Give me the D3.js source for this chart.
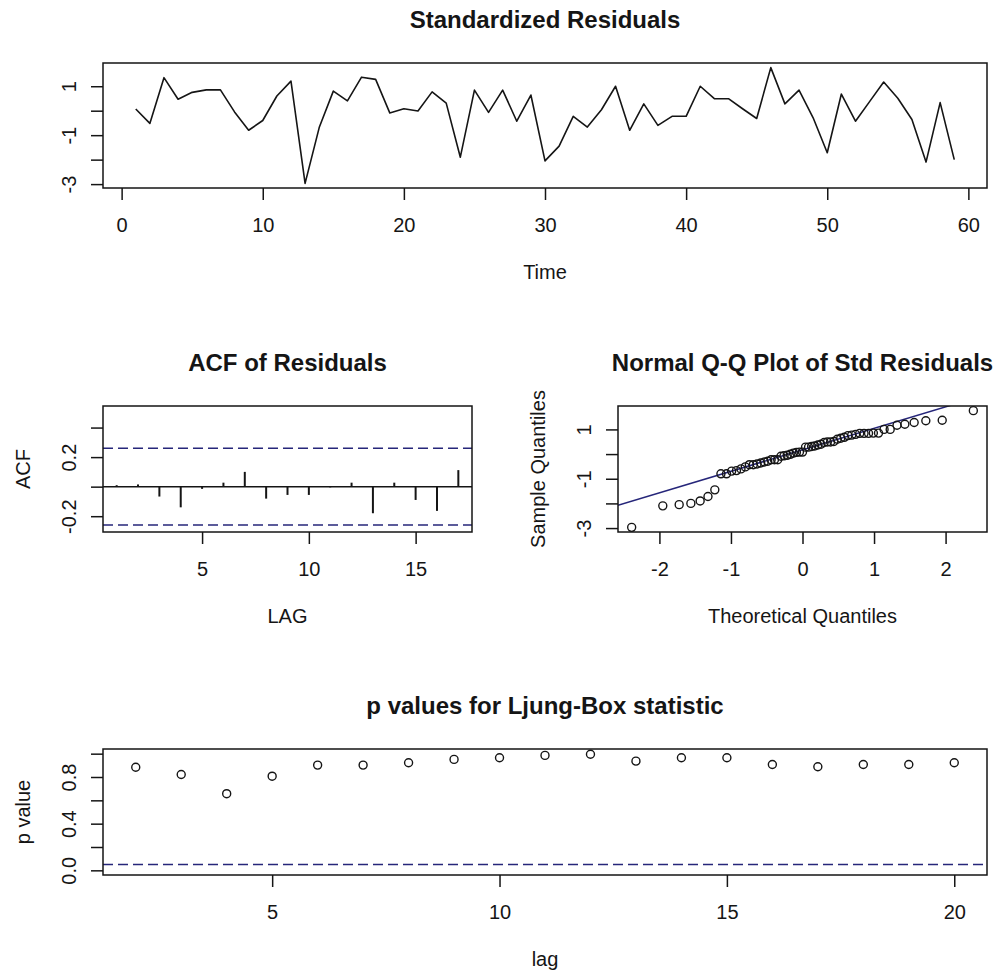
<!DOCTYPE html>
<html>
<head>
<meta charset="utf-8">
<script src="https://cdn.jsdelivr.net/npm/d3@7"></script>
<style>
	body { margin: 0; background: #fff; }
	svg { display: block; font-family: 'Liberation Sans', Arial, sans-serif; }
</style>
</head>
<body>
<script>
// standardized residuals, time 1..59
const stdResid = [
	0.07, -0.52, 1.35, 0.47, 0.75, 0.85, 0.85, -0.05, -0.8, -0.4,
	0.6, 1.21, -2.97, -0.69, 0.8, 0.4, 1.37, 1.28, -0.09, 0.08,
	-0.01, 0.77, 0.31, -1.9, 0.84, -0.07, 0.84, -0.43, 0.64, -2.05,
	-1.45, -0.23, -0.67, 0.04, 1.0, -0.8, 0.28, -0.6, -0.23, -0.23,
	1.0, 0.49, 0.49, 0.08, -0.32, 1.76, 0.28, 0.84, -0.29, -1.72,
	0.68, -0.43, 0.37, 1.17, 0.51, -0.36, -2.1, 0.33, -2.0
];
const timeTicks = [0, 10, 20, 30, 40, 50, 60];
const residTicks = [-3, -2, -1, 0, 1];
const residTickLabels = [-3, -1, 1];

const acfLags = [1, 2, 3, 4, 5, 6, 7, 8, 9, 10, 11, 12, 13, 14, 15, 16, 17];
const acfValues = [0.01, 0.015, -0.067, -0.14, -0.015, 0.027, 0.10, -0.081, -0.056, -0.056,
	-0.005, 0.027, -0.18, 0.027, -0.09, -0.164, 0.112];
const acfBound = 0.26;
const acfYLim = [-0.307, 0.546];
const acfXTicks = [5, 10, 15];
const acfYTicks = [-0.2, 0, 0.2, 0.4];
const acfYTickLabels = [-0.2, 0.2];

const qqXTicks = [-2, -1, 0, 1, 2];

const lbLags = [2, 3, 4, 5, 6, 7, 8, 9, 10, 11, 12, 13, 14, 15, 16, 17, 18, 19, 20];
const lbPValues = [0.884, 0.821, 0.657, 0.807, 0.902, 0.902, 0.922, 0.951, 0.965, 0.985,
	0.995, 0.936, 0.965, 0.965, 0.907, 0.888, 0.907, 0.907, 0.922];
const lbLevel = 0.05;
const lbXTicks = [5, 10, 15, 20];
const lbYTicks = [0, 0.2, 0.4, 0.6, 0.8, 1.0];
const lbYTickLabels = [0, 0.4, 0.8];

const ink = '#151515';
const blue = '#26267a';

// inverse normal cdf (Acklam)
function qnorm(p) {
	const a = [-39.69683028665376, 220.9460984245205, -275.9285104469687, 138.3577518672690, -30.66479806614716, 2.506628277459239];
	const b = [-54.47609879822406, 161.5858368580409, -155.6989798598866, 66.80131188771972, -13.28068155288572];
	const c = [-0.007784894002430293, -0.3223964580411365, -2.400758277161838, -2.549732539343734, 4.374664141464968, 2.938163982698783];
	const d = [0.007784695709041462, 0.3224671290700398, 2.445134137142996, 3.754408661907416];
	const pl = 0.02425;
	let q, r;
	if (p < pl) {
		q = Math.sqrt(-2 * Math.log(p));
		return (((((c[0]*q+c[1])*q+c[2])*q+c[3])*q+c[4])*q+c[5]) / ((((d[0]*q+d[1])*q+d[2])*q+d[3])*q+1);
	}
	if (p > 1 - pl) {
		q = Math.sqrt(-2 * Math.log(1 - p));
		return -(((((c[0]*q+c[1])*q+c[2])*q+c[3])*q+c[4])*q+c[5]) / ((((d[0]*q+d[1])*q+d[2])*q+d[3])*q+1);
	}
	q = p - 0.5;
	r = q * q;
	return (((((a[0]*r+a[1])*r+a[2])*r+a[3])*r+a[4])*r+a[5])*q / (((((b[0]*r+b[1])*r+b[2])*r+b[3])*r+b[4])*r+1);
}

function pad(ext) {
	let d = (ext[1] - ext[0]) * 0.04;
	return [ext[0] - d, ext[1] + d];
}

let svg = d3.select('body').append('svg')
	.attr('width', 1003)
	.attr('height', 970);

svg.append('rect').attr('width', 1003).attr('height', 970).attr('fill', '#fff');

function panel(box, xDomain, yDomain, opts) {
	let x = d3.scaleLinear().domain(xDomain).range([box.x0, box.x1]);
	let y = d3.scaleLinear().domain(yDomain).range([box.y1, box.y0]);
	let g = svg.append('g');

	let xAxis = g.append('g')
		.attr('transform', `translate(0,${box.y1})`)
		.call(d3.axisBottom(x).tickValues(opts.xTicks).tickSize(12).tickPadding(18).tickSizeOuter(0)
			.tickFormat(d => String(d)));
	let yAxis = g.append('g')
		.attr('transform', `translate(${box.x0},0)`)
		.call(d3.axisLeft(y).tickValues(opts.yTicks).tickSize(12).tickSizeOuter(0)
			.tickFormat(d => opts.yLabels.includes(d) ? opts.yFormat(d) : ''));

	[xAxis, yAxis].forEach(a => {
		a.attr('font-size', null).attr('font-family', null);
		a.select('.domain').remove();
		a.selectAll('line').attr('stroke', ink).attr('stroke-width', 1.5);
		a.selectAll('text').attr('fill', ink).style('font-size', '20px');
	});
	yAxis.selectAll('text')
		.attr('x', null)
		.attr('dy', null)
		.attr('text-anchor', 'middle')
		.attr('transform', 'translate(-27,0) rotate(-90)');

	g.append('text')
		.attr('x', (box.x0 + box.x1) / 2)
		.attr('y', box.y0 - 35)
		.attr('text-anchor', 'middle')
		.attr('fill', ink)
		.style('font-size', '24px')
		.style('font-weight', 'bold')
		.text(opts.title);

	g.append('text')
		.attr('x', (box.x0 + box.x1) / 2)
		.attr('y', box.y1 + 91)
		.attr('text-anchor', 'middle')
		.attr('fill', ink)
		.style('font-size', '20px')
		.text(opts.xLabel);

	if (opts.yLabel) {
		let cy = (box.y0 + box.y1) / 2;
		g.append('text')
			.attr('transform', `translate(${box.x0 - 73},${cy}) rotate(-90)`)
			.attr('text-anchor', 'middle')
			.attr('fill', ink)
			.style('font-size', '20px')
			.text(opts.yLabel);
	}

	let plot = g.append('g');
	g.append('rect')
		.attr('x', box.x0).attr('y', box.y0)
		.attr('width', box.x1 - box.x0).attr('height', box.y1 - box.y0)
		.attr('fill', 'none').attr('stroke', ink).attr('stroke-width', 1.5);

	return {x, y, plot};
}

// Standardized residuals
{
	let times = stdResid.map((v, i) => i + 1);
	let p = panel({x0: 103, x1: 987, y0: 63, y1: 188},
		pad(d3.extent(times)), pad(d3.extent(stdResid)),
		{xTicks: timeTicks, yTicks: residTicks, yLabels: residTickLabels, yFormat: d => String(d),
			title: 'Standardized Residuals', xLabel: 'Time', yLabel: ''});
	let line = d3.line().x((d, i) => p.x(times[i])).y(d => p.y(d));
	p.plot.append('path')
		.attr('d', line(stdResid))
		.attr('fill', 'none')
		.attr('stroke', ink)
		.attr('stroke-width', 1.6)
		.attr('stroke-linejoin', 'round');
}

// ACF of residuals
{
	let p = panel({x0: 103, x1: 472, y0: 406, y1: 532},
		pad(d3.extent(acfLags)), acfYLim,
		{xTicks: acfXTicks, yTicks: acfYTicks, yLabels: acfYTickLabels, yFormat: d => d.toFixed(1),
			title: 'ACF of Residuals', xLabel: 'LAG', yLabel: 'ACF'});
	p.plot.append('line')
		.attr('x1', p.x.range()[0]).attr('x2', p.x.range()[1])
		.attr('y1', p.y(0)).attr('y2', p.y(0))
		.attr('stroke', ink).attr('stroke-width', 1.5);
	p.plot.selectAll('.bar')
		.data(acfValues)
		.enter().append('line')
		.attr('class', 'bar')
		.attr('x1', (d, i) => p.x(acfLags[i]))
		.attr('x2', (d, i) => p.x(acfLags[i]))
		.attr('y1', p.y(0))
		.attr('y2', d => p.y(d))
		.attr('stroke', ink).attr('stroke-width', 2);
	p.plot.selectAll('.ci')
		.data([acfBound, -acfBound])
		.enter().append('line')
		.attr('class', 'ci')
		.attr('x1', p.x.range()[0]).attr('x2', p.x.range()[1])
		.attr('y1', d => p.y(d)).attr('y2', d => p.y(d))
		.attr('stroke', blue).attr('stroke-width', 1.5)
		.attr('stroke-dasharray', '10,5');
}

// Normal Q-Q plot
{
	let n = stdResid.length;
	let sample = stdResid.slice().sort(d3.ascending);
	let theo = sample.map((d, i) => qnorm((i + 0.5) / n));
	let box = {x0: 618, x1: 987, y0: 406, y1: 532};
	let p = panel(box, pad(d3.extent(theo)), pad(d3.extent(sample)),
		{xTicks: qqXTicks, yTicks: residTicks, yLabels: residTickLabels, yFormat: d => String(d),
			title: 'Normal Q-Q Plot of Std Residuals', xLabel: 'Theoretical Quantiles', yLabel: 'Sample Quantiles'});

	// qqline through the quartiles
	let q1 = d3.quantile(sample, 0.25), q3 = d3.quantile(sample, 0.75);
	let z1 = qnorm(0.25), z3 = qnorm(0.75);
	let slope = (q3 - q1) / (z3 - z1);
	let intercept = q1 - slope * z1;
	svg.append('clipPath').attr('id', 'qqclip')
		.append('rect')
		.attr('x', box.x0).attr('y', box.y0)
		.attr('width', box.x1 - box.x0).attr('height', box.y1 - box.y0);
	let xd = p.x.domain();
	p.plot.append('line')
		.attr('clip-path', 'url(#qqclip)')
		.attr('x1', p.x(xd[0])).attr('y1', p.y(intercept + slope * xd[0]))
		.attr('x2', p.x(xd[1])).attr('y2', p.y(intercept + slope * xd[1]))
		.attr('stroke', blue).attr('stroke-width', 1.5);

	p.plot.selectAll('circle')
		.data(sample)
		.enter().append('circle')
		.attr('cx', (d, i) => p.x(theo[i]))
		.attr('cy', d => p.y(d))
		.attr('r', 4)
		.attr('fill', 'none')
		.attr('stroke', ink)
		.attr('stroke-width', 1.4);
}

// Ljung-Box p values
{
	let p = panel({x0: 103, x1: 987, y0: 749, y1: 875},
		pad(d3.extent(lbLags)), pad([0, 1]),
		{xTicks: lbXTicks, yTicks: lbYTicks, yLabels: lbYTickLabels, yFormat: d => d.toFixed(1),
			title: 'p values for Ljung-Box statistic', xLabel: 'lag', yLabel: 'p value'});
	p.plot.append('line')
		.attr('x1', p.x.range()[0]).attr('x2', p.x.range()[1])
		.attr('y1', p.y(lbLevel)).attr('y2', p.y(lbLevel))
		.attr('stroke', blue).attr('stroke-width', 1.5)
		.attr('stroke-dasharray', '10,5');
	p.plot.selectAll('circle')
		.data(lbPValues)
		.enter().append('circle')
		.attr('cx', (d, i) => p.x(lbLags[i]))
		.attr('cy', d => p.y(d))
		.attr('r', 4)
		.attr('fill', 'none')
		.attr('stroke', ink)
		.attr('stroke-width', 1.4);
}
</script>
</body>
</html>
